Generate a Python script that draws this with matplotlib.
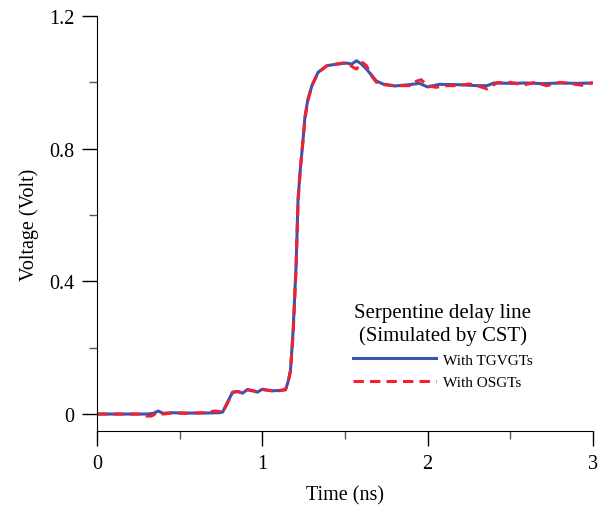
import numpy as np
import matplotlib.pyplot as plt
from matplotlib.ticker import MultipleLocator

plt.rcParams['font.family'] = ['Liberation Serif', 'DejaVu Serif']

# time (ns) and voltage (V)
t_tgvgt = [0, 0.30, 0.34, 0.37, 0.40, 0.45, 0.55, 0.65, 0.74, 0.76, 0.79, 0.82, 0.85, 0.88,
           0.91, 0.94, 0.97, 1.00, 1.03, 1.06, 1.10, 1.14, 1.155, 1.17, 1.186, 1.204, 1.216,
           1.23, 1.245, 1.258, 1.276, 1.30, 1.337, 1.39, 1.45, 1.51, 1.54, 1.57, 1.60, 1.63,
           1.69, 1.73, 1.80, 1.89, 1.95, 2.00, 2.07, 2.18, 2.30, 2.36, 2.40, 2.50, 2.60, 2.70,
           2.80, 2.90, 3.00]
v_tgvgt = [0, 0, 0.002, 0.009, 0.002, 0.004, 0.003, 0.003, 0.004, 0.006, 0.036, 0.066, 0.068,
           0.063, 0.074, 0.07, 0.066, 0.075, 0.072, 0.07, 0.071, 0.073, 0.096, 0.13, 0.25,
           0.446, 0.648, 0.74, 0.82, 0.898, 0.95, 0.99, 1.03, 1.05, 1.055, 1.058, 1.055, 1.065,
           1.055, 1.04, 1.004, 0.995, 0.989, 0.993, 0.997, 0.986, 0.994, 0.993, 0.99, 0.99,
           0.998, 0.997, 0.998, 0.996, 0.998, 0.997, 0.998]

t_osgt = [0, 0.28, 0.30, 0.33, 0.36, 0.40, 0.45, 0.55, 0.65, 0.71, 0.74, 0.76, 0.79, 0.82, 0.85,
          0.88, 0.91, 0.94, 0.97, 1.00, 1.03, 1.06, 1.10, 1.14, 1.155, 1.17, 1.186, 1.204, 1.216,
          1.23, 1.245, 1.258, 1.276, 1.30, 1.337, 1.39, 1.45, 1.51, 1.55, 1.57, 1.60, 1.63, 1.66,
          1.69, 1.73, 1.80, 1.89, 1.93, 1.96, 2.00, 2.05, 2.10, 2.18, 2.25, 2.30, 2.36, 2.42,
          2.50, 2.58, 2.65, 2.72, 2.80, 2.88, 2.95, 3.00]
v_osgt = [0, 0, -0.006, -0.006, 0.003, 0.0, 0.003, 0.002, 0.004, 0.009, 0.008, 0.004, 0.034,
          0.065, 0.068, 0.064, 0.073, 0.071, 0.067, 0.074, 0.072, 0.07, 0.07, 0.074, 0.094, 0.13,
          0.24, 0.44, 0.64, 0.74, 0.82, 0.89, 0.945, 0.99, 1.03, 1.05, 1.055, 1.06, 1.045, 1.04,
          1.062, 1.05, 1.02, 1.0, 0.993, 0.99, 0.99, 1.003, 1.008, 0.99, 0.985, 0.99, 0.99, 0.995,
          0.99, 0.98, 0.999, 1.0, 0.992, 1.0, 0.99, 1.0, 0.995, 0.99, 1.0]

fig = plt.figure(figsize=(6.04, 5.06), dpi=100)
ax = fig.add_axes([0.1606, 0.1462, 0.8212, 0.8202])

ax.plot(t_tgvgt, v_tgvgt, color='#3a55b0', lw=2.2, label='With TGVGTs')
ax.plot(t_osgt, v_osgt, color='#ee2233', lw=2.2, dashes=(3.4, 2.0), label='With OSGTs')

ax.set_xlim(0, 3)
ax.set_ylim(-0.0512, 1.2)
ax.spines['top'].set_visible(False)
ax.spines['right'].set_visible(False)
ax.xaxis.set_minor_locator(MultipleLocator(0.5))
ax.yaxis.set_minor_locator(MultipleLocator(0.2))
ax.xaxis.set_ticks([0, 1, 2, 3], labels=['0', '1', '2', '3'])
ax.yaxis.set_ticks([0, 0.4, 0.8, 1.2], labels=['0', '0.4', '0.8', '1.2'])
ax.tick_params(which='major', length=10.8, width=1, pad=5.5, labelsize=14.5)
ax.tick_params(which='minor', length=6, width=1, color='#555555')

ax.set_xlabel('Time (ns)', fontsize=14.5, labelpad=9)
ax.set_ylabel('Voltage (Volt)', fontsize=14.5, labelpad=7)

leg = ax.legend(title='Serpentine delay line\n(Simulated by CST)', title_fontsize=15,
                fontsize=11, frameon=False, handlelength=5.4, handletextpad=0.45,
                labelspacing=0.55, loc='center', bbox_to_anchor=(0.697, 0.205))
leg.get_title().set_multialignment('center')

fig.savefig('out.png', dpi=100)
